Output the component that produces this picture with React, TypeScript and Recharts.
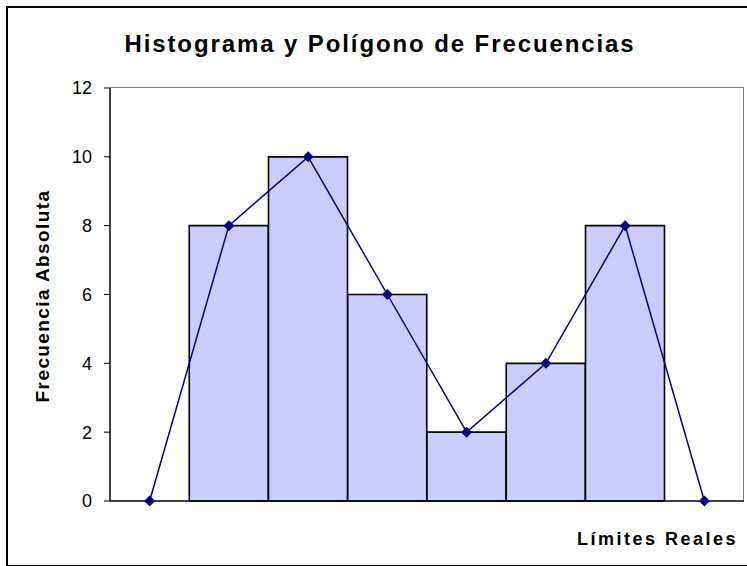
import {
  Bar,
  ComposedChart,
  Line,
  XAxis,
  YAxis,
} from "recharts";

// clases (puntos medios) incluyendo una vacia a cada lado para cerrar el poligono
const CLASES = ["c0", "c1", "c2", "c3", "c4", "c5", "c6", "c7"];
const FRECUENCIAS = [null, 8, 10, 6, 2, 4, 8, null];
const POLIGONO = [0, 8, 10, 6, 2, 4, 8, 0];
const Y_TICKS = [0, 2, 4, 6, 8, 10, 12];

const data = CLASES.map((c, i) => ({
  clase: c,
  freq: FRECUENCIAS[i],
  poly: POLIGONO[i],
}));

const FONT = '"Liberation Sans", Arial, sans-serif';

function Diamond(props: any) {
  const { cx, cy } = props;
  if (cx == null || cy == null) return null;
  const r = 5.5;
  return (
    <polygon
      points={`${cx},${cy - r} ${cx + r},${cy} ${cx},${cy + r} ${cx - r},${cy}`}
      fill="#000080"
    />
  );
}

export default function App() {
  return (
    <div
      style={{
        position: "absolute",
        left: 0,
        top: 0,
        width: 747,
        height: 566,
        background: "#fff",
        overflow: "hidden",
        fontFamily: FONT,
      }}
    >
      <div
        style={{
          position: "absolute",
          left: 6,
          top: 6,
          width: 760,
          height: 557,
          border: "2px solid #000",
        }}
      />
      {/* marco gris del area de trazado (arriba y derecha) */}
      <div
        style={{
          position: "absolute",
          left: 110,
          top: 87,
          width: 633,
          height: 413,
          borderTop: "1.5px solid #808080",
          borderRight: "1.5px solid #808080",
        }}
      />
      <div
        style={{
          position: "absolute",
          left: 0,
          top: 30,
          width: 760,
          textAlign: "center",
          fontSize: 24,
          fontWeight: "bold",
          letterSpacing: 1.9,
        }}
      >
        Histograma y Polígono de Frecuencias
      </div>
      <div
        style={{
          position: "absolute",
          left: 43,
          top: 296,
          transform: "translate(-50%, -50%) rotate(-90deg)",
          whiteSpace: "nowrap",
          fontSize: 19,
          fontWeight: "bold",
          letterSpacing: 1.4,
        }}
      >
        Frecuencia Absoluta
      </div>
      <div
        style={{
          position: "absolute",
          right: 9,
          top: 529,
          whiteSpace: "nowrap",
          fontSize: 18,
          fontWeight: "bold",
          letterSpacing: 2.5,
        }}
      >
        Límites Reales
      </div>
      <ComposedChart
        width={747}
        height={566}
        data={data}
        margin={{ top: 88, right: 3, bottom: 45, left: 0 }}
        barCategoryGap={0}
        barGap={0}
        style={{ position: "absolute", left: 0, top: 0 }}
      >
        <XAxis
          dataKey="clase"
          tick={false}
          tickLine={false}
          height={20}
          axisLine={{ stroke: "#000", strokeWidth: 1.5 }}
        />
        <YAxis
          domain={[0, 12]}
          ticks={Y_TICKS}
          interval={0}
          width={110}
          tickSize={6}
          tickMargin={12}
          tick={{ fill: "#000", fontSize: 18, fontFamily: FONT }}
          tickLine={{ stroke: "#000", strokeWidth: 1 }}
          axisLine={{ stroke: "#000", strokeWidth: 1.5 }}
        />
        <Bar
          dataKey="freq"
          fill="#ccccff"
          stroke="#000"
          strokeWidth={1.6}
          isAnimationActive={false}
        />
        <Line
          dataKey="poly"
          stroke="#000080"
          strokeWidth={1.5}
          dot={<Diamond />}
          activeDot={false}
          isAnimationActive={false}
        />
      </ComposedChart>
    </div>
  );
}
